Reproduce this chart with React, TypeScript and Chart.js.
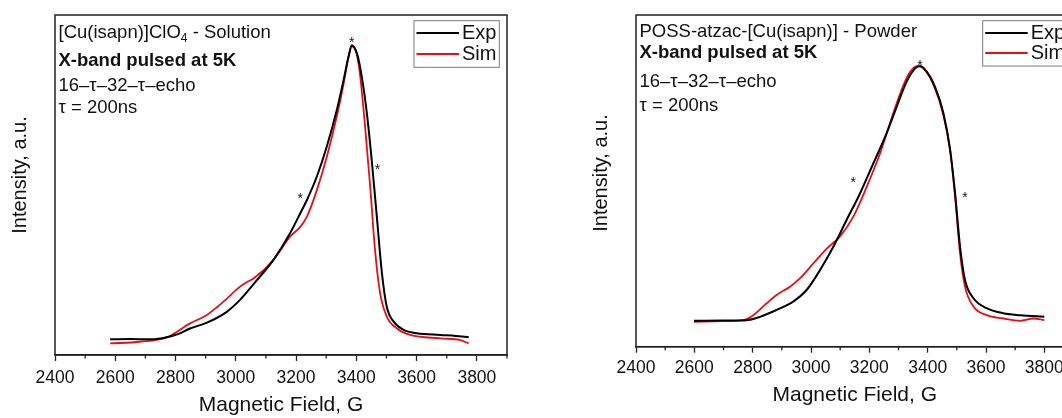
import React, { useEffect, useRef } from 'react';
import { Chart, registerables } from 'chart.js';

Chart.register(...registerables);

// ---------- DATA ----------
// Left panel: [Cu(isapn)]ClO4 - Solution
const solExpField = [2583, 2650, 2720, 2771, 2810, 2848, 2904, 2970, 3014, 3070, 3125, 3180, 3214, 3236, 3269, 3302, 3335, 3358, 3374, 3385, 3402, 3418, 3435, 3451, 3468, 3485, 3501, 3524, 3557, 3601, 3679, 3730, 3773];
const solExpValue = [0.046, 0.047, 0.046, 0.052, 0.062, 0.078, 0.095, 0.127, 0.162, 0.22, 0.28, 0.358, 0.417, 0.456, 0.525, 0.613, 0.72, 0.81, 0.877, 0.909, 0.887, 0.819, 0.711, 0.574, 0.407, 0.24, 0.142, 0.098, 0.074, 0.064, 0.059, 0.056, 0.052];
const solSimField = [2583, 2682, 2771, 2848, 2904, 2959, 3014, 3036, 3059, 3125, 3180, 3214, 3236, 3269, 3302, 3335, 3358, 3374, 3385, 3402, 3413, 3429, 3446, 3462, 3479, 3501, 3535, 3579, 3679, 3745, 3773];
const solSimValue = [0.034, 0.039, 0.052, 0.093, 0.118, 0.157, 0.201, 0.214, 0.225, 0.28, 0.348, 0.377, 0.407, 0.485, 0.583, 0.701, 0.799, 0.877, 0.912, 0.882, 0.819, 0.672, 0.495, 0.309, 0.181, 0.113, 0.078, 0.059, 0.049, 0.044, 0.034];
const solStarField = [3385, 3214, 3470];
const solStarValue = [0.928, 0.471, 0.557];

// Right panel: POSS-atzac-[Cu(isapn)] - Powder
const powExpField = [2599, 2700, 2779, 2825, 2882, 2939, 2985, 3031, 3077, 3122, 3168, 3214, 3259, 3294, 3328, 3357, 3374, 3397, 3425, 3454, 3477, 3494, 3511, 3528, 3557, 3602, 3659, 3717, 3800];
const powExpValue = [0.078, 0.079, 0.080, 0.090, 0.111, 0.136, 0.171, 0.231, 0.302, 0.382, 0.462, 0.553, 0.643, 0.724, 0.799, 0.839, 0.846, 0.829, 0.784, 0.704, 0.593, 0.462, 0.302, 0.201, 0.146, 0.116, 0.101, 0.095, 0.090];
const powSimField = [2599, 2700, 2768, 2802, 2848, 2882, 2928, 2962, 3008, 3054, 3099, 3145, 3191, 3237, 3282, 3317, 3340, 3362, 3385, 3420, 3454, 3477, 3494, 3511, 3528, 3557, 3602, 3659, 3717, 3762, 3800];
const powSimValue = [0.075, 0.077, 0.080, 0.095, 0.131, 0.156, 0.181, 0.206, 0.251, 0.296, 0.332, 0.392, 0.482, 0.583, 0.704, 0.789, 0.829, 0.846, 0.839, 0.789, 0.698, 0.593, 0.452, 0.281, 0.181, 0.121, 0.095, 0.085, 0.078, 0.085, 0.080];
const powStarField = [3374, 3145, 3528];
const powStarValue = [0.859, 0.505, 0.459];

// Axis
const xMin = 2400;
const xMax = 3900;
const xStep = 200;
const minorTicks = [2500, 2700, 2900, 3100, 3300, 3500, 3700, 3900];
const xTitle = 'Magnetic Field, G';
const yTitle = 'Intensity, a.u.';
const seriesLabels = ['Exp', 'Sim'];

const solNotes = [
  [{ t: '[Cu(isapn)]ClO' }, { t: '4', sub: true }, { t: ' - Solution' }],
  [{ t: 'X-band pulsed at 5K', bold: true }],
  [{ t: '16–τ–32–τ–echo' }],
  [{ t: 'τ = 200ns' }],
];
const powNotes = [
  [{ t: 'POSS-atzac-[Cu(isapn)] - Powder' }],
  [{ t: 'X-band pulsed at 5K', bold: true }],
  [{ t: '16–τ–32–τ–echo' }],
  [{ t: 'τ = 200ns' }],
];

// ---------- STYLE ----------
const FONT = "'Liberation Sans', Arial, Helvetica, sans-serif";
const TEXT = '#111111';
const AXIS = '#222222';
const EXP_COLOR = '#000000';
const SIM_COLOR = '#e3101a';

type Seg = { t: string; bold?: boolean; sub?: boolean };

type Spec = {
  canvasLeft: number;
  width: number;
  padLeft: number;
  padRight: number;
  padTop: number;
  xHeight: number;
  tickPad: number;
  titlePad: number;
  yTitleX: number;
  yTitleY: number;
  notesX: number;
  notesY: number[];
  notes: Seg[][];
  legend: { x: number; y: number; w: number; h: number; row: number[] };
  expField: number[];
  expValue: number[];
  simField: number[];
  simValue: number[];
  starField: number[];
  starValue: number[];
};

const HEIGHT = 418;

const specs: Spec[] = [
  {
    canvasLeft: 0,
    width: 531,
    padLeft: 55,
    padRight: 24,
    padTop: 15,
    xHeight: 63,
    tickPad: 6.5,
    titlePad: 0,
    yTitleX: 20,
    yTitleY: 175,
    notesX: 58.5,
    notesY: [33, 60.5, 86, 108],
    notes: solNotes,
    legend: { x: 414, y: 20.7, w: 85.3, h: 46.6, row: [33, 54] },
    expField: solExpField,
    expValue: solExpValue,
    simField: solSimField,
    simValue: solSimValue,
    starField: solStarField,
    starValue: solStarValue,
  },
  {
    canvasLeft: 531,
    width: 560,
    padLeft: 105,
    padRight: 17.5,
    padTop: 15,
    xHeight: 71.3,
    tickPad: 4.8,
    titlePad: 10,
    yTitleX: 70.7,
    yTitleY: 173,
    notesX: 108.5,
    notesY: [32, 53, 82, 106],
    notes: powNotes,
    legend: { x: 451.7, y: 20.7, w: 85.3, h: 45.3, row: [33, 53] },
    expField: powExpField,
    expValue: powExpValue,
    simField: powSimField,
    simValue: powSimValue,
    starField: powStarField,
    starValue: powStarValue,
  },
];

function makeDecor(spec: Spec) {
  return {
    id: 'decor',
    afterDatasetsDraw(chart: any) {
      const { ctx, chartArea: a, scales } = chart;
      const xs = scales.x;
      const ys = scales.y;
      ctx.save();

      // frame
      ctx.strokeStyle = AXIS;
      ctx.lineWidth = 1.5;
      ctx.strokeRect(a.left, a.top, a.right - a.left, a.bottom - a.top);

      // minor ticks
      ctx.lineWidth = 1.3;
      ctx.beginPath();
      for (const v of minorTicks) {
        const px = xs.getPixelForValue(v);
        ctx.moveTo(px, a.bottom);
        ctx.lineTo(px, a.bottom + 3.5);
      }
      ctx.stroke();

      // stars
      ctx.fillStyle = TEXT;
      ctx.font = `14px ${FONT}`;
      ctx.textAlign = 'center';
      ctx.textBaseline = 'alphabetic';
      spec.starField.forEach((f, i) => {
        const px = xs.getPixelForValue(f);
        const py = ys.getPixelForValue(spec.starValue[i]);
        ctx.fillText('*', px, py + 8);
      });

      // notes
      ctx.textAlign = 'left';
      ctx.textBaseline = 'middle';
      spec.notes.forEach((line, li) => {
        let cx = spec.notesX;
        const cy = spec.notesY[li];
        for (const seg of line) {
          if (seg.sub) {
            ctx.font = `12px ${FONT}`;
            ctx.fillText(seg.t, cx, cy + 6);
          } else {
            ctx.font = `${seg.bold ? 'bold ' : ''}18.5px ${FONT}`;
            ctx.fillText(seg.t, cx, cy);
          }
          cx += ctx.measureText(seg.t).width;
        }
      });

      // legend
      const L = spec.legend;
      ctx.strokeStyle = '#7a7a7a';
      ctx.lineWidth = 1;
      ctx.strokeRect(L.x, L.y, L.w, L.h);
      ctx.font = `20px ${FONT}`;
      chart.data.datasets.forEach((ds: any, i: number) => {
        const yy = L.row[i];
        ctx.strokeStyle = ds.borderColor;
        ctx.lineWidth = 2;
        ctx.beginPath();
        ctx.moveTo(L.x + 2.5, yy);
        ctx.lineTo(L.x + 45, yy);
        ctx.stroke();
        ctx.fillStyle = TEXT;
        ctx.fillText(ds.label, L.x + 48, yy);
      });

      // y title
      ctx.save();
      ctx.translate(spec.yTitleX, spec.yTitleY);
      ctx.rotate(-Math.PI / 2);
      ctx.textAlign = 'center';
      ctx.textBaseline = 'middle';
      ctx.font = `20px ${FONT}`;
      ctx.fillStyle = TEXT;
      ctx.fillText(yTitle, 0, 0);
      ctx.restore();

      ctx.restore();
    },
  };
}

function Panel({ spec }: { spec: Spec }) {
  const ref = useRef<HTMLCanvasElement | null>(null);
  useEffect(() => {
    if (!ref.current) return;
    const chart = new Chart(ref.current, {
      type: 'line',
      data: {
        datasets: [
          {
            label: seriesLabels[0],
            data: spec.expField.map((f, i) => ({ x: f, y: spec.expValue[i] })),
            borderColor: EXP_COLOR,
            borderWidth: 2,
            pointRadius: 0,
            cubicInterpolationMode: 'monotone',
            fill: false,
          },
          {
            label: seriesLabels[1],
            data: spec.simField.map((f, i) => ({ x: f, y: spec.simValue[i] })),
            borderColor: SIM_COLOR,
            borderWidth: 1.8,
            pointRadius: 0,
            cubicInterpolationMode: 'monotone',
            fill: false,
          },
        ],
      },
      options: {
        animation: false,
        responsive: false,
        devicePixelRatio: 1,
        layout: { padding: { left: spec.padLeft, right: spec.padRight, top: spec.padTop, bottom: 0 } },
        plugins: { legend: { display: false }, tooltip: { enabled: false } },
        scales: {
          x: {
            type: 'linear',
            min: xMin,
            max: xMax,
            grid: { drawOnChartArea: false, drawTicks: true, tickLength: 6, tickWidth: 1.3, tickColor: AXIS },
            border: { display: true, color: AXIS, width: 1.5 },
            ticks: {
              stepSize: xStep,
              includeBounds: false,
              autoSkip: false,
              maxRotation: 0,
              padding: spec.tickPad,
              color: TEXT,
              font: { family: FONT, size: 17.5 },
              callback: (v: any) => String(v),
            },
            title: {
              display: true,
              text: xTitle,
              color: TEXT,
              font: { family: FONT, size: 21 },
              padding: { top: 0, bottom: spec.titlePad },
            },
            afterFit: (s: any) => {
              s.height = spec.xHeight;
            },
          },
          y: {
            type: 'linear',
            min: 0,
            max: 1,
            display: false,
          },
        },
      },
      plugins: [makeDecor(spec)],
    } as any);
    return () => chart.destroy();
  }, [spec]);
  return (
    <canvas
      ref={ref}
      width={spec.width}
      height={HEIGHT}
      style={{ position: 'absolute', left: spec.canvasLeft, top: 0, width: spec.width, height: HEIGHT }}
    />
  );
}

export default function App() {
  return (
    <div
      style={{
        position: 'fixed',
        left: 0,
        top: 0,
        width: 1062,
        height: HEIGHT,
        overflow: 'hidden',
        background: '#ffffff',
      }}
    >
      {specs.map((s, i) => (
        <Panel key={i} spec={s} />
      ))}
    </div>
  );
}
